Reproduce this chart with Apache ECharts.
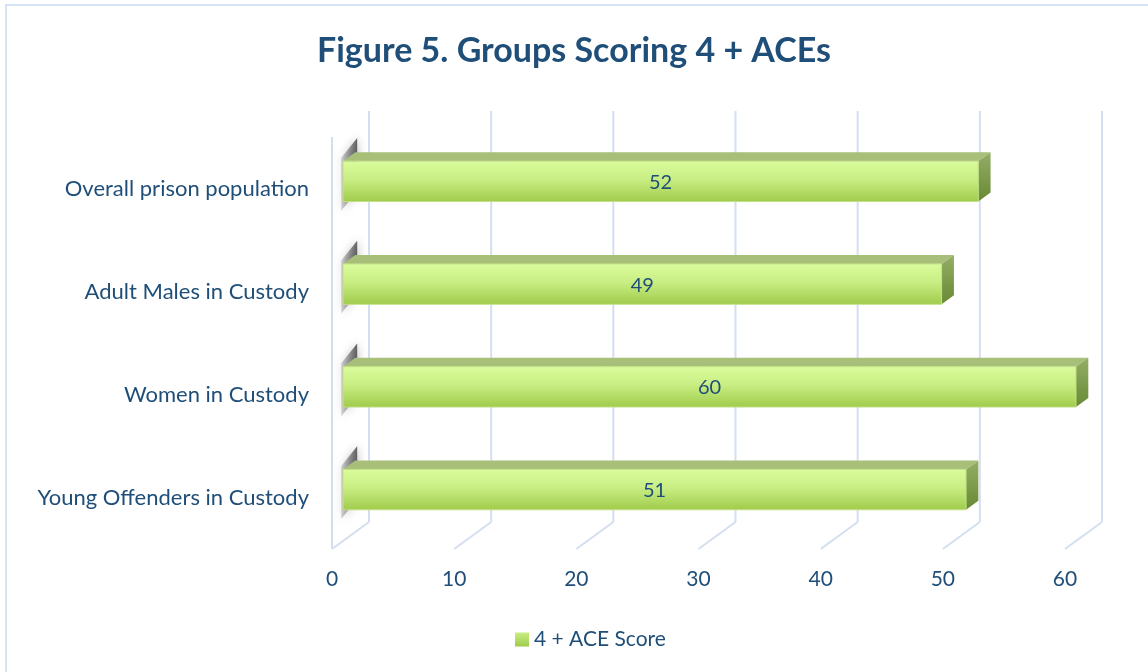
<!DOCTYPE html>
<html>
<head>
<meta charset="utf-8">
<script src="https://cdn.jsdelivr.net/npm/echarts@6/dist/echarts.min.js"></script>
<style>
  html, body { margin: 0; padding: 0; background: #fff; }
  #main { width: 1148px; height: 672px; }
</style>
</head>
<body>
<div id="main"></div>
<script>
// data
const categories = ['Overall prison population', 'Adult Males in Custody', 'Women in Custody', 'Young Offenders in Custody'];
const scores = [52, 49, 60, 51];
const tickValues = [0, 10, 20, 30, 40, 50, 60];
const seriesName = '4 + ACE Score';

const txt = '#1f4e79';
const font = 'Lato';

// 3d depth of the floor (front edge -> back wall), pixels
const DX = 37, DY = -27;
// bar sits between these depth fractions
const F1 = 0.297, F2 = 0.63;
const HALF = 20.2;

let chart = echarts.init(document.getElementById('main'));

let renderWalls = (params, api) => {
  let cs = params.coordSys;
  let v = api.value(0);
  let px = api.coord([v, 0])[0];
  let bottom = cs.y + cs.height;
  let top = cs.y;
  let st = { stroke: '#d3dff0', lineWidth: 2 };
  let kids = [
    { type: 'line', shape: { x1: px, y1: bottom, x2: px + DX, y2: bottom + DY }, style: st },
    { type: 'line', shape: { x1: px + DX, y1: bottom + DY, x2: px + DX, y2: top + DY }, style: st }
  ];
  if (v === 0) {
    kids.push({ type: 'line', shape: { x1: px, y1: bottom, x2: px, y2: top - 1 }, style: st });
  }
  return { type: 'group', children: kids };
};

let renderBar = (params, api) => {
  let idx = api.value(1);
  let val = api.value(0);
  let yc = api.coord([0, idx])[1];
  let x0 = api.coord([0, idx])[0];
  let xv = api.coord([val, idx])[0];
  let fx = DX * F1, fy = DY * F1;
  let bx = DX * F2, by = DY * F2;
  let dx = bx - fx, dy = by - fy;
  let yT = yc + fy - HALF, yB = yc + fy + HALF;
  let L = x0 + fx, R = xv + fx;

  // soft shadow on the left wall
  let sa = 0.25, sb = 0.68;
  let shadow = {
    type: 'polygon',
    shape: { points: [
      [x0 + DX * sb, yc - 33 + DY * sb],
      [x0 + DX * sb, yc + 20 + DY * sb],
      [x0 + DX * sa, yc + 28 + DY * sa],
      [x0 + DX * sa, yc - 25 + DY * sa]
    ] },
    style: {
      fill: new echarts.graphic.LinearGradient(0, 0, 1, 0, [
        { offset: 0, color: 'rgba(90,90,90,0.25)' },
        { offset: 1, color: 'rgba(50,50,50,0.75)' }
      ]),
      shadowBlur: 10,
      shadowColor: 'rgba(0,0,0,0.4)'
    }
  };
  let topFace = {
    type: 'polygon',
    shape: { points: [[L, yT], [R, yT], [R + dx, yT + dy], [L + dx, yT + dy]] },
    style: { fill: '#a7bf78' }
  };
  let sideFace = {
    type: 'polygon',
    shape: { points: [[R, yT], [R + dx, yT + dy], [R + dx, yB + dy], [R, yB]] },
    style: {
      fill: new echarts.graphic.LinearGradient(0, 0, 0, 1, [
        { offset: 0, color: '#94ae66' },
        { offset: 1, color: '#688a34' }
      ])
    }
  };
  let front = {
    type: 'rect',
    shape: { x: L, y: yT, width: R - L, height: yB - yT },
    style: {
      fill: new echarts.graphic.LinearGradient(0, 0, 0, 1, [
        { offset: 0, color: '#dafc9c' },
        { offset: 0.45, color: '#c9ee84' },
        { offset: 1, color: '#9fcb4a' }
      ]),
      stroke: '#c4e088',
      lineWidth: 1
    }
  };
  let label = {
    type: 'text',
    style: {
      text: String(val),
      x: (L + R) / 2,
      y: yc + fy + 1,
      align: 'center',
      verticalAlign: 'middle',
      fill: txt,
      font: '20px ' + font
    }
  };
  return { type: 'group', children: [shadow, topFace, sideFace, front, label] };
};

const option = {
  animation: false,
  title: {
    text: 'Figure 5. Groups Scoring 4 + ACEs',
    left: 'center',
    top: 29,
    textStyle: { color: txt, fontSize: 34, fontWeight: 'bold', fontFamily: font }
  },
  graphic: [{
    type: 'rect',
    shape: { x: 6, y: 5, width: 1300, height: 800 },
    style: { fill: null, stroke: '#d6e3f4', lineWidth: 2 },
    silent: true
  }],
  legend: {
    data: [seriesName],
    left: 510,
    top: 624,
    icon: 'rect',
    itemWidth: 14,
    itemHeight: 14,
    itemGap: 6,
    textStyle: { color: txt, fontSize: 21, fontFamily: font }
  },
  grid: { left: 332, top: 138, width: 733, height: 411 },
  xAxis: {
    type: 'value',
    min: 0,
    max: 60,
    interval: 10,
    axisLine: { show: false },
    axisTick: { show: false },
    splitLine: { show: false },
    axisLabel: { color: txt, fontSize: 21, fontFamily: font, margin: 20 }
  },
  yAxis: {
    type: 'category',
    inverse: true,
    data: categories,
    axisLine: { show: false },
    axisTick: { show: false },
    axisLabel: { color: txt, fontSize: 22, fontFamily: font, margin: 23 }
  },
  series: [
    {
      name: 'walls',
      type: 'custom',
      silent: true,
      clip: false,
      renderItem: renderWalls,
      data: tickValues.map(v => [v, 0]),
      z: 1
    },
    {
      name: seriesName,
      type: 'custom',
      clip: false,
      renderItem: renderBar,
      itemStyle: {
        color: new echarts.graphic.LinearGradient(0, 0, 0, 1, [
          { offset: 0, color: '#c9ee84' },
          { offset: 1, color: '#9fcb4a' }
        ])
      },
      data: scores.map((v, i) => [v, i]),
      z: 2
    }
  ]
};

chart.setOption(option);
</script>
</body>
</html>
